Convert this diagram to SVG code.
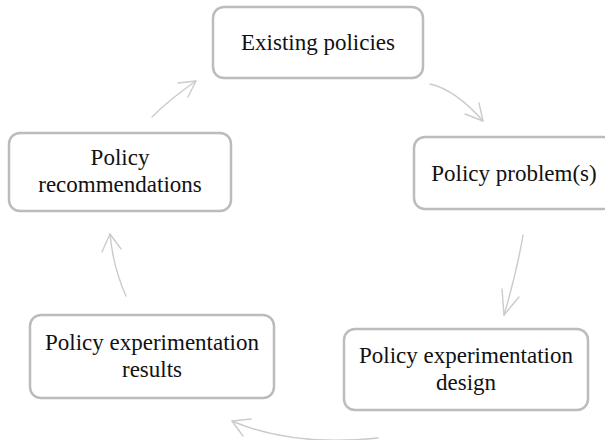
<svg xmlns="http://www.w3.org/2000/svg" width="605" height="440" viewBox="0 0 605 440">
<style>
.box{fill:#fff;stroke:#bcbcbc;stroke-width:2.5}
.lbl{font-family:"Liberation Serif","Times New Roman",serif;font-size:23px;fill:#111;text-anchor:middle}
.con{fill:none;stroke:#cbcbcb;stroke-width:1.4;stroke-linecap:round;stroke-linejoin:round}
</style>
<rect width="605" height="440" fill="#fff"/>
<g id="connectors">
<path class="con" d="M152,117 Q170,99 196,81"/>
<polyline class="con" points="178,83 196,81 188,97"/>
<path class="con" d="M430,84 Q455.5,89.75 483,121"/>
<polyline class="con" points="479,103 483,121 465,114"/>
<path class="con" d="M523,235 Q517,271 504,315"/>
<polyline class="con" points="502,289 504,315 519,297"/>
<path class="con" d="M378,438 Q292,447 232,421"/>
<polyline class="con" points="251,419 232,421 243,436"/>
<path class="con" d="M126,296 Q113,267 110,234"/>
<polyline class="con" points="102,252 110,234 121,249"/>
</g>
<g id="existing-policies">
<rect class="box" x="213" y="7" width="210" height="71" rx="11"/>
<text class="lbl" x="318" y="50">Existing policies</text>
</g>
<g id="policy-problems">
<rect class="box" x="414" y="137" width="200" height="72" rx="11"/>
<text class="lbl" x="514" y="181">Policy problem(s)</text>
</g>
<g id="policy-experimentation-design">
<rect class="box" x="344" y="329" width="244" height="81" rx="11"/>
<text class="lbl" x="466" y="363">Policy experimentation</text>
<text class="lbl" x="466" y="390">design</text>
</g>
<g id="policy-experimentation-results">
<rect class="box" x="30" y="315" width="244" height="83" rx="11"/>
<text class="lbl" x="152" y="350">Policy experimentation</text>
<text class="lbl" x="152" y="377">results</text>
</g>
<g id="policy-recommendations">
<rect class="box" x="9" y="133" width="222" height="78" rx="11"/>
<text class="lbl" x="120" y="165">Policy</text>
<text class="lbl" x="120" y="192">recommendations</text>
</g>
</svg>
